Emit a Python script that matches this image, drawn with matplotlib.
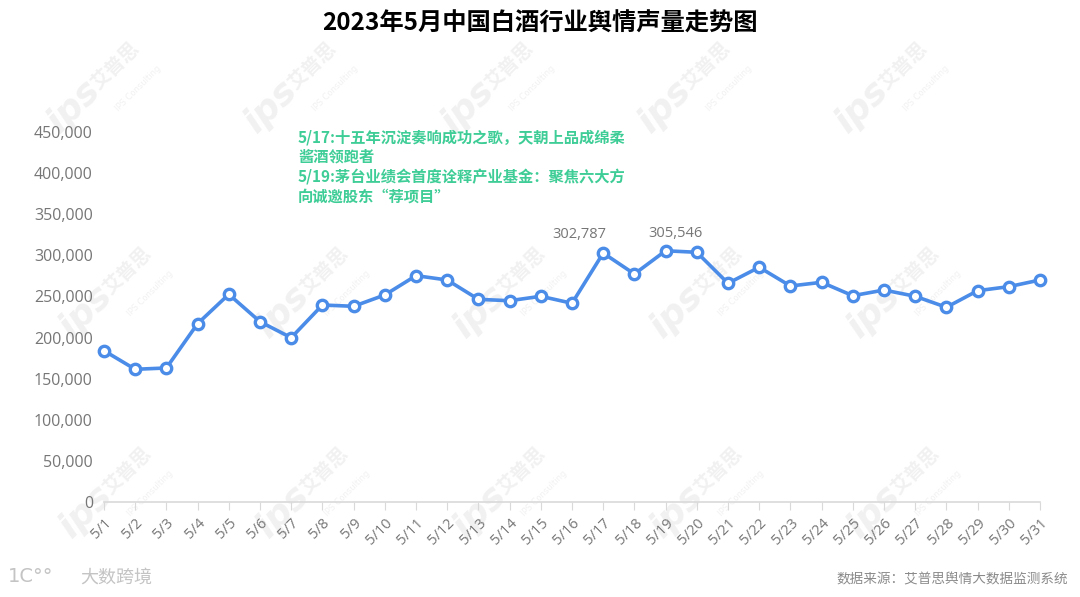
import matplotlib.pyplot as plt
import matplotlib
import numpy as np

matplotlib.rcParams['font.family'] = ['Open Sans', 'Noto Sans CJK SC', 'DejaVu Sans']

# %% data
dates = ["5/1", "5/2", "5/3", "5/4", "5/5", "5/6", "5/7", "5/8", "5/9", "5/10",
         "5/11", "5/12", "5/13", "5/14", "5/15", "5/16", "5/17", "5/18", "5/19", "5/20",
         "5/21", "5/22", "5/23", "5/24", "5/25", "5/26", "5/27", "5/28", "5/29", "5/30", "5/31"]
volume = [184000, 161400, 163000, 216900, 252600, 219300, 199800, 239600, 238000, 251800,
          275300, 270000, 246500, 244800, 250200, 241700, 302787, 277300, 305546, 303700,
          266000, 285500, 262700, 267200, 250900, 257800, 250200, 236800, 257000, 261900, 270000]
yticks = [0, 50000, 100000, 150000, 200000, 250000, 300000, 350000, 400000, 450000]
labelled = {"5/17": (-24, 19), "5/19": (10, 17)}   # label offsets in pixels

title = "2023年5月中国白酒行业舆情声量走势图"
notes = ["5/17:十五年沉淀奏响成功之歌，天朝上品成绵柔",
         "酱酒领跑者",
         "5/19:茅台业绩会首度诠释产业基金：聚焦六大方",
         "向诚邀股东“荐项目”"]
source = "数据来源：艾普思舆情大数据监测系统"

W, H = 1080, 597
blue = '#4a8ce8'
grey = '#767676'
green = '#3ecd96'

def fx(px):
    return px / W

def fy(py):
    return 1 - py / H

# %%
fig = plt.figure(figsize=(W / 100, H / 100), dpi=100)
ax = fig.add_axes([fx(104), fy(502), fx(1040) - fx(104), fy(132) - fy(502)])
ax.set_zorder(2)
ax.patch.set_alpha(0)

# watermarks, kept inside the figure
wm = '#f1f1f1'
for row, y0 in enumerate([0, 205, 405]):
    for k in range(5):
        x0 = k * 197 + (12 if row else 0)
        fig.text(fx(x0 + 74), fy(y0 + 106), "ips", fontsize=26, fontweight='bold', style='italic',
                 color=wm, rotation=45, ha='center', va='center', family='DejaVu Sans', zorder=0)
        fig.text(fx(x0 + 116), fy(y0 + 66), "艾普思", fontsize=14, fontweight='bold',
                 color=wm, rotation=45, ha='center', va='center', family='Noto Sans CJK SC', zorder=0)
        fig.text(fx(x0 + 138), fy(y0 + 88), "IPS Consulting", fontsize=6,
                 color=wm, rotation=45, ha='center', va='center', family='DejaVu Sans', zorder=0)

x = np.arange(len(dates))
ax.plot(x, volume, color=blue, lw=2.6, marker='o', ms=7.5, mfc='white', mec=blue, mew=2.4,
        zorder=3, clip_on=False)

for d, (dx, dy) in labelled.items():
    i = dates.index(d)
    ax.annotate(f"{volume[i]:,}", (i, volume[i]), xytext=(dx, dy), textcoords='offset pixels',
                ha='center', va='center', fontsize=10.5, color=grey)

ax.set_xlim(0, len(dates) - 1)
ax.set_ylim(0, 450000)
ax.set_yticks(yticks)
ax.set_yticklabels([f"{v:,}" for v in yticks], fontsize=11.5, color=grey)
ax.set_xticks(x)
ax.set_xticklabels(dates, rotation=45, ha='right', rotation_mode='anchor', fontsize=10.5, color=grey)
ax.tick_params(axis='y', length=0, pad=8)
ax.tick_params(axis='x', length=6, color='#d9d9d9', pad=4)
for s in ['top', 'right', 'left']:
    ax.spines[s].set_visible(False)
ax.spines['bottom'].set_color('#d9d9d9')
ax.spines['bottom'].set_linewidth(1.2)

fig.text(0.5, fy(24), title, fontsize=17.5, fontweight='bold', color='black',
         ha='center', va='center', family='Noto Sans CJK SC')
for i, line in enumerate(notes):
    fig.text(fx(298), fy(137 + 20 * i), line, fontsize=11, fontweight='bold', color=green,
             ha='left', va='center', family='Noto Sans CJK SC')

fig.text(fx(1068), fy(579), source, fontsize=9.8, color='#8a8a8a', ha='right', va='center',
         family='Noto Sans CJK SC')
fig.text(fx(80), fy(578), "大数跨境", fontsize=13, color='#c4c4c4', ha='left', va='center',
         family='Noto Sans CJK SC')
fig.text(fx(8), fy(577), "1C°°", fontsize=14, color='#c4c4c4', ha='left', va='center',
         family='DejaVu Sans')

fig.savefig("out.png", dpi=100)
